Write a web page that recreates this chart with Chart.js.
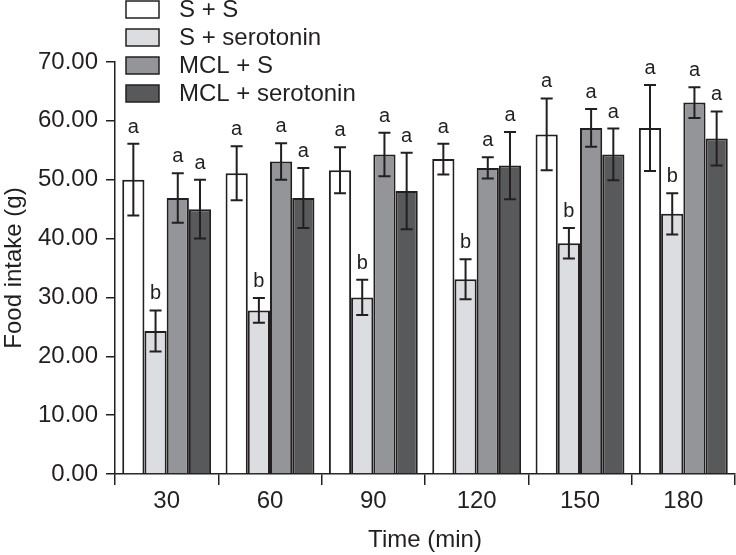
<!DOCTYPE html>
<html>
<head>
<meta charset="utf-8">
<script src="https://cdn.jsdelivr.net/npm/chart.js@4/dist/chart.umd.min.js"></script>
<style>
  html, body { margin: 0; padding: 0; background: #fff; }
  #wrap { width: 736px; height: 555px; position: relative; }
</style>
</head>
<body>
<div id="wrap"><canvas id="chart"></canvas></div>
<script>
const categories = ['30', '60', '90', '120', '150', '180']
const seriesNames = ['S + S', 'S + serotonin', 'MCL + S', 'MCL + serotonin']

const ssMean = [50.0, 51.1, 51.6, 53.5, 57.7, 58.8]
const ssErr = [6.1, 4.6, 3.9, 2.6, 6.1, 7.3]
const sserMean = [24.3, 27.8, 30.0, 33.1, 39.2, 44.2]
const sserErr = [3.5, 2.1, 3.0, 3.4, 2.6, 3.5]
const mclsMean = [46.9, 53.1, 54.3, 52.0, 58.8, 63.1]
const mclsErr = [4.2, 3.1, 3.7, 1.8, 3.2, 2.6]
const mclserMean = [45.0, 46.9, 48.1, 52.4, 54.3, 57.0]
const mclserErr = [5.0, 5.1, 6.5, 5.7, 4.4, 4.6]

const ssLetters = ['a', 'a', 'a', 'a', 'a', 'a']
const sserLetters = ['b', 'b', 'b', 'b', 'b', 'b']
const mclsLetters = ['a', 'a', 'a', 'a', 'a', 'a']
const mclserLetters = ['a', 'a', 'a', 'a', 'a', 'a']

const ink = '#231f20'
const font = '"Liberation Sans", Arial, sans-serif'

function makeSet (i, data, errs, letters, fill) {
  return {
    label: seriesNames[i],
    data: data,
    errs: errs,
    letters: letters,
    backgroundColor: fill,
    borderColor: ink,
    borderWidth: 2,
    categoryPercentage: 0.86,
    barPercentage: 1.0
  }
}

// error bars + significance letters
const errorBars = {
  id: 'errorBars',
  afterDatasetsDraw (chart) {
    const ctx = chart.ctx
    const y = chart.scales.y
    ctx.save()
    ctx.strokeStyle = ink
    ctx.lineWidth = 2
    ctx.fillStyle = ink
    ctx.font = '20px ' + font
    ctx.textAlign = 'center'
    ctx.textBaseline = 'alphabetic'
    chart.data.datasets.forEach((ds, di) => {
      const meta = chart.getDatasetMeta(di)
      meta.data.forEach((bar, i) => {
        const top = y.getPixelForValue(ds.data[i] + ds.errs[i])
        const bot = y.getPixelForValue(ds.data[i] - ds.errs[i])
        const x = bar.x
        ctx.beginPath()
        ctx.moveTo(x, top); ctx.lineTo(x, bot)
        ctx.moveTo(x - 6, top); ctx.lineTo(x + 6, top)
        ctx.moveTo(x - 6, bot); ctx.lineTo(x + 6, bot)
        ctx.stroke()
        ctx.fillText(ds.letters[i], x, top - 11)
      })
    })
    ctx.restore()
  }
}

// legend stacked in the top-left corner
const cornerLegend = {
  id: 'cornerLegend',
  afterDraw (chart) {
    const ctx = chart.ctx
    ctx.save()
    ctx.font = '24px ' + font
    ctx.textBaseline = 'middle'
    ctx.textAlign = 'left'
    chart.data.datasets.forEach((ds, i) => {
      const top = 1 + i * 28
      ctx.fillStyle = ds.backgroundColor
      ctx.fillRect(126, top, 33, 17)
      ctx.strokeStyle = ink
      ctx.lineWidth = 1.5
      ctx.strokeRect(126, top, 33, 17)
      ctx.fillStyle = ink
      ctx.fillText(ds.label, 179, top + 9)
    })
    ctx.restore()
  }
}

new Chart(document.getElementById('chart').getContext('2d'), {
  type: 'bar',
  data: {
    labels: categories,
    datasets: [
      makeSet(0, ssMean, ssErr, ssLetters, '#ffffff'),
      makeSet(1, sserMean, sserErr, sserLetters, '#dcdde0'),
      makeSet(2, mclsMean, mclsErr, mclsLetters, '#939598'),
      makeSet(3, mclserMean, mclserErr, mclserLetters, '#58595b')
    ]
  },
  options: {
    responsive: true,
    maintainAspectRatio: false,
    animation: false,
    layout: { padding: { top: 62, right: 1, left: 0, bottom: 0 } },
    scales: {
      x: {
        grid: { display: true, drawOnChartArea: false, drawTicks: true, tickLength: 11, color: ink, lineWidth: 1.5 },
        border: { display: true, color: ink, width: 1.5 },
        ticks: { color: ink, padding: 2, font: { family: font, size: 24 } },
        title: { display: true, text: 'Time (min)', color: ink, padding: 0, font: { family: font, size: 24 } },
        afterFit: (s) => { s.height = 81 }
      },
      y: {
        min: 0,
        max: 70,
        grid: { display: true, drawOnChartArea: false, drawTicks: true, tickLength: 9, color: ink, lineWidth: 1.5 },
        border: { display: true, color: ink, width: 1.5 },
        ticks: {
          stepSize: 10,
          color: ink,
          padding: 8,
          font: { family: font, size: 24 },
          callback: (v) => Number(v).toFixed(2)
        },
        title: { display: true, text: 'Food intake (g)', color: ink, padding: 0, font: { family: font, size: 24 } },
        afterFit: (s) => { s.width = 115 }
      }
    },
    plugins: {
      legend: { display: false },
      tooltip: { enabled: false }
    }
  },
  plugins: [errorBars, cornerLegend]
})
</script>
</body>
</html>
